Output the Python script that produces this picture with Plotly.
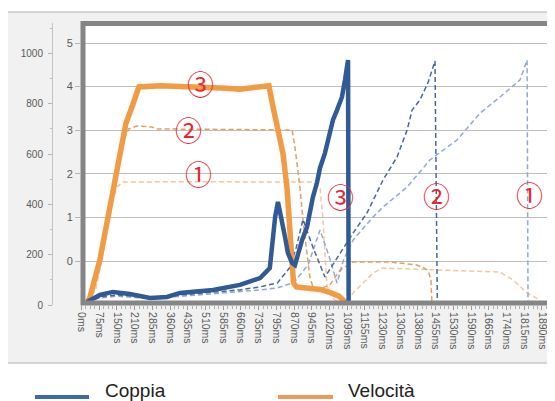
import numpy as np
import plotly.graph_objects as go

# ---------------- data ----------------
tick_labels = ["0ms", "75ms", "150ms", "210ms", "285ms", "360ms", "435ms", "510ms", "585ms",
               "660ms", "735ms", "795ms", "870ms", "945ms", "1020ms", "1095ms", "1155ms",
               "1230ms", "1305ms", "1380ms", "1455ms", "1530ms", "1590ms", "1665ms", "1740ms",
               "1815ms", "1890ms"]
tick_ms = [0, 75, 150, 210, 285, 360, 435, 510, 585, 660, 735, 795, 870, 945, 1020, 1095, 1155,
           1230, 1305, 1380, 1455, 1530, 1590, 1665, 1740, 1815, 1890]

# test 3 (solid)
vel3_ms = [25, 36, 78, 112, 133, 154, 165, 180, 201, 228, 320, 420, 500, 600, 656, 720, 770,
           784, 800, 823, 840, 853, 862, 868, 880, 910, 980, 1022, 1060, 1078, 1098]
vel3_val = [10, 32, 180, 350, 457, 565, 640, 720, 787, 867, 872, 870, 866, 862, 858, 866, 872,
            787, 700, 604, 469, 310, 207, 87, 72, 70, 62, 50, 35, 20, 0]

cop3_ms = [23, 78, 133, 194, 275, 347, 402, 542, 656, 740, 773, 781, 791, 802, 819, 832, 844,
           862, 874, 887, 904, 925, 937, 950, 967, 980, 1001, 1022, 1035, 1052, 1073, 1086,
           1094, 1098, 1100]
cop3_val = [12, 40, 52, 44, 28, 32, 48, 60, 80, 107, 147, 247, 350, 410, 338, 270, 207,
            167, 159, 207, 258, 310, 366, 429, 485, 545, 604, 684, 736, 775, 827, 895,
            962, 974, 0]

# test 2 (dashed, darker)
vel2_ms = [25, 78, 112, 133, 154, 170, 190, 220, 284, 296, 500, 700, 862, 874, 895, 908, 925,
           937, 950, 980, 1022, 1065, 1115, 1262, 1376, 1422, 1435, 1439, 1480]
vel2_val = [10, 170, 340, 450, 560, 650, 700, 712, 708, 700, 698, 696, 696, 628, 469, 338, 207,
            111, 72, 64, 80, 139, 171, 171, 159, 139, 99, 8, 0]

cop2_ms = [23, 78, 150, 275, 402, 542, 656, 740, 800, 853, 880, 908, 950, 1001, 1065, 1115,
           1164, 1232, 1291, 1334, 1355, 1388, 1422, 1452, 1462]
cop2_val = [12, 32, 40, 30, 40, 50, 60, 72, 88, 150, 230, 340, 230, 111, 207, 286,
            366, 497, 588, 696, 775, 815, 883, 970, 0]

# test 1 (dashed, lighter)
vel1_ms = [25, 60, 90, 120, 150, 171, 400, 700, 946, 980, 993, 1001, 1010, 1042, 1094, 1115,
           1190, 1228, 1473, 1712, 1768, 1827, 1882]
vel1_val = [10, 60, 200, 380, 470, 489, 490, 491, 489, 469, 338, 207, 72, 20, 8, 48,
            127, 147, 139, 131, 99, 48, 20]

cop1_ms = [23, 78, 150, 275, 402, 542, 656, 740, 800, 870, 930, 980, 1020, 1052, 1080, 1115,
           1190, 1232, 1334, 1431, 1542, 1628, 1712, 1797, 1827, 1831]
cop1_val = [12, 28, 35, 26, 34, 44, 52, 60, 68, 90, 160, 298, 190, 87, 180, 258,
            350, 390, 469, 577, 656, 763, 827, 895, 974, 0]

mark_text = ["③", "②", "①", "③", "②", "①"]
mark_ms = [487, 437, 480, 1065, 1459, 1836]
mark_val = [879, 696, 521, 433, 437, 441]

series_names = ["Coppia", "Velocità"]
left_ticks = [0, 200, 400, 600, 800, 1000]
inner_ticks = [0, 1, 2, 3, 4, 5]

# ---------------- helpers ----------------
W, H = 555, 401
OFF = 8                       # page body margin of the html page
PL, PR, PT, PB = 40, 553, 23, 305   # plot-area edges in page pixels
ML = PL - OFF
MT = PT - OFF
MR = W - (PR - OFF)
MB = H - (PB - OFF)
PW, PH = PR - PL, PB - PT


def xi(ms):
    return np.interp(ms, tick_ms, np.arange(len(tick_ms)))


def px_x(p):
    return (p - PL) / PW


def px_y(p):
    return (PB - p) / PH


BLUE = "#2f5a96"
ORANGE = "#f29b45"
BLUE2 = "#45689f"
BLUE1 = "#8eaad3"
ORANGE2 = "#e4a062"
ORANGE1 = "#f3c8a0"
DASH = "5px,3px"

fig = go.Figure()

fig.add_trace(go.Scatter(x=xi(vel1_ms), y=vel1_val, mode="lines", showlegend=False,
                         line=dict(color=ORANGE1, width=1.5, dash=DASH)))
fig.add_trace(go.Scatter(x=xi(cop1_ms), y=cop1_val, mode="lines", showlegend=False,
                         line=dict(color=BLUE1, width=1.5, dash=DASH)))
fig.add_trace(go.Scatter(x=xi(vel2_ms), y=vel2_val, mode="lines", showlegend=False,
                         line=dict(color=ORANGE2, width=1.5, dash=DASH)))
fig.add_trace(go.Scatter(x=xi(cop2_ms), y=cop2_val, mode="lines", showlegend=False,
                         line=dict(color=BLUE2, width=1.5, dash=DASH)))
fig.add_trace(go.Scatter(x=xi(vel3_ms), y=vel3_val, mode="lines", name=series_names[1],
                         showlegend=False, line=dict(color=ORANGE, width=5.5)))
fig.add_trace(go.Scatter(x=xi(cop3_ms), y=cop3_val, mode="lines", name=series_names[0],
                         showlegend=False, line=dict(color=BLUE, width=4.5)))
# trace carrying the inner 0-5 axis
fig.add_trace(go.Scatter(x=[None], y=[None], yaxis="y2", showlegend=False, hoverinfo="skip"))

step = 17.71
xr0 = -0.5 / step
xr1 = xr0 + (PR - 81) / step

fig.update_layout(
    width=W, height=H,
    margin=dict(l=ML, r=MR, t=MT, b=MB),
    paper_bgcolor="white",
    plot_bgcolor="white",
    font=dict(family="Liberation Sans, Arial, sans-serif", color="#595959"),
    showlegend=False,
    xaxis=dict(
        domain=[px_x(81), 1.0], range=[xr0, xr1],
        tickmode="array", tickvals=list(range(len(tick_labels))), ticktext=tick_labels,
        tickangle=90, tickfont=dict(size=10.5, color="#595959"),
        ticks="outside", ticklen=4, tickcolor="#9a9a9a",
        minor=dict(ticks="outside", ticklen=3, tickcolor="#b0b0b0", dtick=0.25, tick0=0),
        showgrid=False, zeroline=False, showline=False, anchor="y",
    ),
    yaxis=dict(
        domain=[0, 1], range=[0, PH / 0.2515],
        anchor="free", position=px_x(52),
        tickmode="array", tickvals=left_ticks,
        tickfont=dict(size=10, color="#595959"),
        ticks="outside", ticklen=4, tickcolor="#b5b5b5",
        minor=dict(ticks="outside", ticklen=2, tickcolor="#c0c0c0", dtick=100, tick0=0),
        showline=True, linecolor="#c4c4c4", linewidth=1,
        showgrid=False, zeroline=False, ticklabelstandoff=3,
    ),
    yaxis2=dict(
        overlaying="y", anchor="free", position=px_x(80),
        range=[-(305 - 261) / 43.6, 5 + (43 - 23) / 43.6],
        tickmode="array", tickvals=inner_ticks,
        tickfont=dict(size=11, color="#595959"),
        ticks="outside", ticklen=5, tickcolor="#b5b5b5",
        showgrid=True, gridcolor="#bdbdbd", gridwidth=1,
        zeroline=False, showline=False,
    ),
)

shapes = []
# outer light panel
shapes.append(dict(type="rect", xref="paper", yref="paper", layer="below",
                   x0=px_x(7), x1=px_x(565), y0=px_y(363), y1=px_y(12),
                   fillcolor="#f1f1f1", line=dict(color="#c8c8c8", width=1.5)))
# white plot area
shapes.append(dict(type="rect", xref="paper", yref="paper", layer="below",
                   x0=px_x(81), x1=px_x(553), y0=0, y1=1,
                   fillcolor="white", line=dict(width=0)))
# plot border
shapes.append(dict(type="rect", xref="paper", yref="paper", layer="above",
                   x0=px_x(83), x1=px_x(553), y0=px_y(303), y1=px_y(23.5),
                   line=dict(color="#858585", width=5)))
# legend lines
shapes.append(dict(type="line", xref="paper", yref="paper", x0=px_x(35), x1=px_x(89),
                   y0=px_y(397), y1=px_y(397), line=dict(color="#3d6aa8", width=4)))
shapes.append(dict(type="line", xref="paper", yref="paper", x0=px_x(278), x1=px_x(333),
                   y0=px_y(397), y1=px_y(397), line=dict(color="#f0985a", width=4)))
fig.update_layout(shapes=shapes)

ann = []
for t, m, v in zip(mark_text, mark_ms, mark_val):
    ann.append(dict(x=float(xi(m)), y=v, xref="x", yref="y", text=t, showarrow=False,
                    font=dict(family="Noto Sans CJK JP", size=27, color="#e8262f"),
                    xanchor="center", yanchor="middle"))
ann.append(dict(x=px_x(103), y=px_y(390), xref="paper", yref="paper", text=series_names[0],
                showarrow=False, xanchor="left", yanchor="middle",
                font=dict(family="Liberation Sans, Arial", size=19, color="#222222")))
ann.append(dict(x=px_x(346), y=px_y(390), xref="paper", yref="paper", text=series_names[1],
                showarrow=False, xanchor="left", yanchor="middle",
                font=dict(family="Liberation Sans, Arial", size=19, color="#222222")))
fig.update_layout(annotations=ann)

fig.write_html("out.html")
